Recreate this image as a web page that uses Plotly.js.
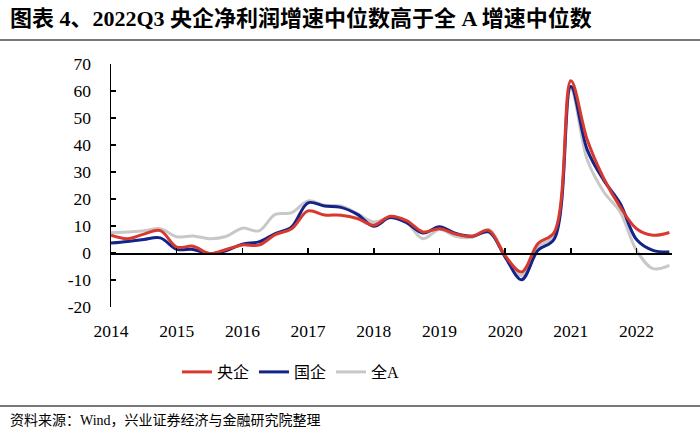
<!DOCTYPE html>
<html>
<head>
<meta charset="utf-8">
<script src="https://cdn.plot.ly/plotly-3.0.1.min.js"></script>
<style>html,body{margin:0;padding:0;background:#fff;}#chart{width:700px;height:438px;}</style>
</head>
<body>
<div id="chart"></div>
<script>
// Quarterly points, 2014Q1 .. 2022Q3 (x position = year fraction)
var quarters = [2014, 2014.25, 2014.5, 2014.75, 2015, 2015.25, 2015.5, 2015.75,
  2016, 2016.25, 2016.5, 2016.75, 2017, 2017.25, 2017.5, 2017.75,
  2018, 2018.25, 2018.5, 2018.75, 2019, 2019.25, 2019.5, 2019.75,
  2020, 2020.25, 2020.5, 2020.75, 2021, 2021.25, 2021.5, 2021.75,
  2022, 2022.25, 2022.5];

var centralSOE = [6.6, 5.3, 7.0, 8.3, 2.2, 2.5, -0.2, 1.3,
  3.0, 2.9, 6.8, 9.0, 15.6, 14.1, 14.0, 12.8,
  10.3, 13.6, 12.0, 7.8, 9.0, 7.0, 6.2, 8.4,
  -1.0, -7.0, 3.5, 7.8, 63.8, 41.9, 27.7, 17.1,
  9.0, 6.6, 7.6];

var allSOE = [3.7, 4.3, 5.0, 5.6, 1.4, 1.3, -0.2, 0.8,
  3.3, 4.1, 7.2, 9.7, 18.6, 17.4, 16.9, 14.3,
  9.9, 13.1, 11.2, 7.4, 9.7, 7.2, 6.2, 7.8,
  -1.5, -9.9, 1.0, 5.3, 61.7, 38.2, 27.0, 18.4,
  5.0, 1.0, 0.4];

var allA = [7.5, 7.8, 8.2, 9.0, 6.0, 6.3, 5.3, 6.1,
  9.2, 8.2, 14.3, 14.9, 19.3, 17.7, 17.4, 14.6,
  11.5, 13.1, 11.2, 5.3, 8.7, 6.2, 5.8, 8.7,
  -0.8, -8.3, 2.2, 6.6, 60.7, 34.5, 22.7, 15.2,
  1.0, -5.8, -4.6];

var seriesNames = ['央企', '国企', '全A'];

var xTickVals = [2014, 2015, 2016, 2017, 2018, 2019, 2020, 2021, 2022];
var xTickText = ['2014', '2015', '2016', '2017', '2018', '2019', '2020', '2021', '2022'];
var yTickVals = [-20, -10, 0, 10, 20, 30, 40, 50, 60, 70];
var yTickText = ['-20', '-10', '0', '10', '20', '30', '40', '50', '60', '70'];

var serif = 'Liberation Serif, Times New Roman, Noto Sans CJK SC, serif';

function mk(y, name, color) {
  return {x: quarters, y: y, name: name, type: 'scatter', mode: 'lines',
    line: {color: color, width: 3, shape: 'spline', smoothing: 1}};
}

var data = [
  mk(allA, seriesNames[2], '#C8C8C8'),
  mk(allSOE, seriesNames[1], '#13238A'),
  mk(centralSOE, seriesNames[0], '#D8392F')
];
data[0].legendrank = 3; data[1].legendrank = 2; data[2].legendrank = 1;

var L = 111, R = 28, T = 64, B = 131;
var PW = 700 - L - R, PH = 438 - T - B;
function px(x) { return (x - L) / PW; }
function py(y) { return (438 - B - y) / PH; }

var layout = {
  width: 700, height: 438,
  margin: {l: L, r: R, t: T, b: B},
  paper_bgcolor: '#fff', plot_bgcolor: '#fff',
  title: {text: '图表 4、2022Q3 央企净利润增速中位数高于全 A 增速中位数',
    font: {family: serif, size: 22, color: '#000', weight: 'bold'},
    xref: 'container', yref: 'container', x: 10 / 700, xanchor: 'left',
    y: 1 - 18 / 438, yanchor: 'middle'},
  showlegend: true,
  legend: {orientation: 'h', x: px(177), xanchor: 'left', y: py(372), yanchor: 'middle',
    font: {family: serif, size: 16, color: '#000'}, itemwidth: 30, traceorder: 'normal'},
  xaxis: {range: [2014, 2022.54], anchor: 'free', position: 20 / 90,
    showline: true, linecolor: '#000', linewidth: 1.5,
    ticks: 'inside', ticklen: 5, tickwidth: 1.5, tickcolor: '#000',
    tickvals: xTickVals, ticktext: xTickText, ticklabelstandoff: 61,
    showgrid: false, zeroline: false,
    tickfont: {family: serif, size: 17.5, color: '#000'}},
  yaxis: {range: [-20, 70], showline: true, linecolor: '#000', linewidth: 1.5,
    ticks: 'inside', ticklen: 5, tickwidth: 1.5, tickcolor: '#000',
    tickvals: yTickVals, ticktext: yTickText, ticklabelstandoff: 15,
    showgrid: false, zeroline: false,
    tickfont: {family: serif, size: 17.5, color: '#000'}},
  shapes: [
    {type: 'line', xref: 'paper', yref: 'paper', x0: px(0), x1: px(700), y0: py(40), y1: py(40),
      line: {color: '#777', width: 2}},
    {type: 'line', xref: 'paper', yref: 'paper', x0: px(0), x1: px(700), y0: py(406), y1: py(406),
      line: {color: '#777', width: 2}}
  ],
  annotations: [
    {text: '资料来源：Wind，兴业证券经济与金融研究院整理', xref: 'paper', yref: 'paper',
      x: px(8), xanchor: 'left', y: py(421), yanchor: 'middle', showarrow: false,
      font: {family: serif, size: 14, color: '#000'}}
  ]
};

Plotly.newPlot('chart', data, layout, {displayModeBar: false, staticPlot: true});
</script>
</body>
</html>
